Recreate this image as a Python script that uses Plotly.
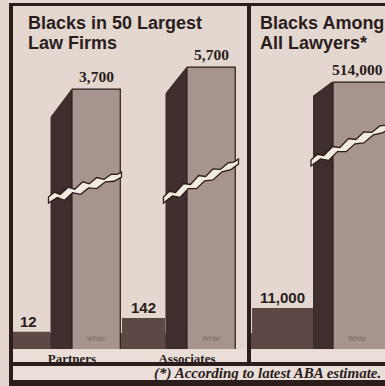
import numpy as np
import plotly.graph_objects as go

# Blacks and whites in the 50 largest law firms
firm_roles = ["Partners", "Associates"]
firm_blacks = [12, 142]
firm_whites = [3700, 5700]

# Blacks and whites among all lawyers (ABA estimate)
all_roles = ["All lawyers"]
all_blacks = [11000]
all_whites = [514000]

W, H = 385, 386


def px(x):
    return x / W


def py(y):
    return 1 - y / H


BG = "#e3d7cf"
FRONT = "#a8948f"
SIDE = "#3e2f2e"
BLACK = "#5d4846"
INK = "#2a1d1c"
STRIP = "#e9dfd8"
CRACK = "#f3ebdf"

SANS = "Liberation Sans, Arial"
SERIF = "Liberation Serif, Times New Roman, serif"

fig = go.Figure()

# ---- bar geometry (category units; 1 unit = one group spacing)
left_geo = dict(blk_off=-0.565, blk_w=0.375, side_off=-0.187, side_w=0.187, front_w=0.42)
right_geo = dict(blk_off=-0.704, blk_w=0.53, side_off=-0.174, side_w=0.174, front_w=0.5)
LABEL_OFF = 0.21


def add_panel(roles, blacks, whites, xa, ya_blk, ya_wht, geo):
    fig.add_bar(x=roles, y=blacks, xaxis=xa, yaxis=ya_blk,
                offset=geo["blk_off"], width=geo["blk_w"],
                marker=dict(color=BLACK, line=dict(color=BLACK, width=0)),
                showlegend=False, hoverinfo="skip")
    fig.add_bar(x=roles, y=whites, xaxis=xa, yaxis=ya_wht,
                offset=geo["side_off"], width=geo["side_w"],
                marker=dict(color=SIDE, line=dict(color=SIDE, width=0)),
                showlegend=False, hoverinfo="skip")
    fig.add_bar(x=roles, y=whites, xaxis=xa, yaxis=ya_wht,
                offset=0, width=geo["front_w"],
                marker=dict(color=FRONT, line=dict(color=INK, width=1.2)),
                showlegend=False, hoverinfo="skip")


add_panel(firm_roles, firm_blacks, firm_whites, "x", "y", "y2", left_geo)
add_panel(all_roles, all_blacks, all_whites, "x2", "y3", "y4", right_geo)

# ---- axes
ydom = [py(349), py(20)]
hidden_y = dict(visible=False, showgrid=False, zeroline=False, fixedrange=True)
fig.update_layout(
    xaxis=dict(domain=[px(13), px(247)], range=[-0.513, 1.522], anchor="y",
               showgrid=False, zeroline=False, showline=False, ticks="",
               tickfont=dict(family=SERIF, size=13, color=INK, weight="bold")),
    yaxis=dict(domain=ydom, range=[-150, 2950], anchor="x", **hidden_y),
    yaxis2=dict(domain=ydom, type="log", range=[1.352, 4.157], overlaying="y",
                anchor="x", **hidden_y),
    xaxis2=dict(domain=[px(251), 1], range=[-0.713, 0.452], anchor="y3",
                showgrid=False, zeroline=False, showline=False, ticks="",
                showticklabels=False),
    yaxis3=dict(domain=ydom, range=[-7000, 137000], anchor="x2", **hidden_y),
    yaxis4=dict(domain=ydom, type="log", range=[3.435, 6.240], overlaying="y3",
                anchor="x2", **hidden_y),
)


# ---- value labels
def add_labels(blacks, whites, xa, ya_blk, ya_wht, geo):
    for i, v in enumerate(blacks):
        fig.add_annotation(x=i + geo["blk_off"] + geo["blk_w"] / 2, y=v,
                           xref=xa, yref=ya_blk, text=f"{v:,}", showarrow=False,
                           yanchor="bottom", yshift=0,
                           font=dict(family=SANS, size=15, color=INK, weight="bold"))
    for i, v in enumerate(whites):
        fig.add_annotation(x=i + LABEL_OFF, y=np.log10(v),
                           xref=xa, yref=ya_wht, text=f"{v:,}", showarrow=False,
                           yanchor="bottom", yshift=2,
                           font=dict(family=SERIF, size=15.5, color=INK, weight="bold"))
        fig.add_annotation(x=i + LABEL_OFF, y=0, xref=xa,
                           yref=f"{ya_blk} domain", text="White", showarrow=False,
                           yanchor="bottom", yshift=5,
                           font=dict(family=SANS, size=7, color="#7c6763"))


add_labels(firm_blacks, firm_whites, "x", "y", "y2", left_geo)
add_labels(all_blacks, all_whites, "x2", "y3", "y4", right_geo)

# ---- 3-D bevel on the side faces and the axis-break cracks
UPPER = [(0, 0), (0.08, 3), (0.16, -1), (0.27, 4), (0.36, 0), (0.47, 5),
         (0.56, 1), (0.66, 5), (0.76, 1), (0.86, 4), (0.94, 2), (1, 3)]
LOWER = [(0, -6), (0.12, -3), (0.22, -8), (0.33, -3), (0.44, -7), (0.55, -3),
         (0.66, -6), (0.78, -2), (0.9, -4), (1, -2)]


def crack_path(length, drop_l, drop_r):
    def pt(t, j):
        x = -2 + t * (length + 4)
        y = -(drop_l + (drop_r - drop_l) * t) + j
        return f"{x:.1f},{y:.1f}"
    up = [pt(t, j) for t, j in UPPER]
    lo = [pt(t, j) for t, j in reversed(LOWER)]
    return "M " + " L ".join(up + lo) + " Z"


def add_decor(whites, xa, ya_wht, geo, cuts, cracks, crack_len):
    side_px = 115 * geo["side_w"]
    for i, v in enumerate(whites):
        fig.add_shape(type="path", xref=xa, yref=ya_wht,
                      xsizemode="pixel", ysizemode="pixel",
                      xanchor=i, yanchor=v,
                      path=f"M 1,2 L {-side_px - 3:.1f},2 L {-side_px - 3:.1f},{-cuts[i]} Z",
                      fillcolor=BG, line=dict(width=0), layer="above")
        dl, dr = cracks[i]
        fig.add_shape(type="path", xref=xa, yref=ya_wht,
                      xsizemode="pixel", ysizemode="pixel",
                      xanchor=i + geo["side_off"], yanchor=v,
                      path=crack_path(crack_len[i], dl, dr),
                      fillcolor=CRACK, line=dict(color=INK, width=1.3), layer="above")


add_decor(firm_whites, "x", "y2", left_geo, cuts=[32, 30],
          cracks=[(108, 86), (130, 95)], crack_len=[69, 71])
add_decor(all_whites, "x2", "y4", right_geo, cuts=[16],
          cracks=[(78, 43)], crack_len=[76])

# ---- floor under the bars (below zero on the count axes)
fig.add_shape(type="rect", xref="x", yref="y", x0=-0.6, x1=1 + left_geo["front_w"],
              y0=-150, y1=0, fillcolor=BLACK, line=dict(width=0), layer="below")
fig.add_shape(type="rect", xref="x2 domain", yref="y3", x0=0, x1=1,
              y0=-7000, y1=0, fillcolor=BLACK, line=dict(width=0), layer="below")


# ---- frame and bottom strips
def rect(x0, y0, x1, y1, color, layer):
    fig.add_shape(type="rect", xref="paper", yref="paper",
                  x0=px(x0), x1=px(x1), y0=py(y1), y1=py(y0),
                  fillcolor=color, line=dict(width=0), layer=layer)


rect(13, 349.5, 386, 362, STRIP, "below")
rect(13, 362, 386, 366, INK, "below")
rect(13, 366, 386, 380, STRIP, "below")
rect(9, 380, 386, 386, INK, "above")
rect(9, 3, 13, 386, INK, "above")
rect(9, 3, 386, 6, INK, "above")
rect(247, 3, 251, 362, INK, "above")

# ---- titles and footnote
title_font = dict(family=SANS, size=18, color=INK, weight="bold")
for text, x, y in [("Blacks in 50 Largest", 26, 23), ("Law Firms", 26, 43),
                   ("Blacks Among", 258, 23), ("All Lawyers*", 258, 43)]:
    fig.add_annotation(x=px(x), y=py(y), xref="paper", yref="paper", text=text,
                       showarrow=False, xanchor="left", yanchor="middle",
                       font=title_font)

fig.add_annotation(x=px(383), y=py(373), xref="paper", yref="paper",
                   text="(*) According to latest ABA estimate.", showarrow=False,
                   xanchor="right", yanchor="middle",
                   font=dict(family=SERIF, size=15, color=INK, weight="bold",
                             style="italic"))

fig.update_layout(
    width=W, height=H, margin=dict(l=0, r=0, t=0, b=0),
    paper_bgcolor=BG, plot_bgcolor="rgba(0,0,0,0)",
    barmode="overlay", showlegend=False,
)

fig.write_html("out.html", config={"displayModeBar": False})
